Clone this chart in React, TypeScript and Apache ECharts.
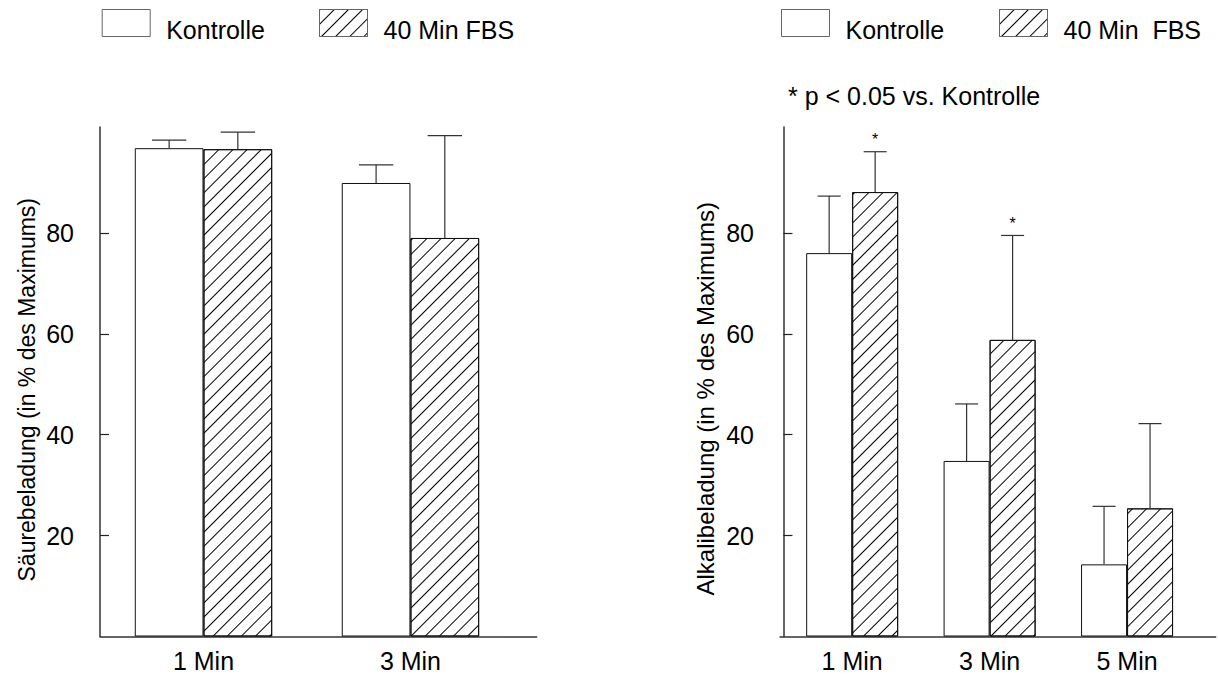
import { useEffect, useRef } from 'react';
import * as echarts from 'echarts';

// Säurebeladung: time after start (min), mean and SD in % of maximum
const leftMinutes = [1, 3];
const leftKontrolle = [96.8, 89.9];
const leftKontrolleSd = [1.6, 3.6];
const leftFbs = [96.6, 79.0];
const leftFbsSd = [3.4, 20.3];

// Alkalibeladung
const rightMinutes = [1, 3, 5];
const rightKontrolle = [76.0, 34.8, 14.3];
const rightKontrolleSd = [11.3, 11.3, 11.5];
const rightFbs = [88.1, 58.8, 25.4];
const rightFbsSd = [8.0, 20.7, 16.8];
const rightFbsSignificant = [true, true, false];

const yTicks = [20, 40, 60, 80];

const FONT = '"Liberation Sans", Arial, Helvetica, sans-serif';
const AXIS_COLOR = '#333';
const LEFT_BAR_W = 68.7;
const RIGHT_BAR_W = 46;

const hatch = {
  symbol: 'rect',
  symbolSize: 1,
  color: '#000',
  backgroundColor: '#fff',
  dashArrayX: [1, 0],
  dashArrayY: [1, 8.7],
  rotation: -Math.PI / 4,
};

function barSeries(name: string, axis: number, minutes: number[], values: number[], barW: number, hatched: boolean) {
  return {
    type: 'bar',
    name,
    xAxisIndex: axis,
    yAxisIndex: axis,
    barWidth: barW,
    barGap: '0%',
    silent: true,
    data: minutes.map((m, i) => [m, values[i]]),
    itemStyle: {
      color: '#fff',
      borderColor: '#111',
      borderWidth: 1,
      ...(hatched ? { decal: hatch } : {}),
    },
  };
}

function errorSeries(
  name: string,
  axis: number,
  minutes: number[],
  values: number[],
  sd: number[],
  offset: number,
  cap: number,
  stars?: boolean[],
) {
  return {
    type: 'custom',
    name,
    xAxisIndex: axis,
    yAxisIndex: axis,
    z: 5,
    silent: true,
    data: minutes.map((m, i) => [m, values[i], sd[i], stars && stars[i] ? 1 : 0]),
    encode: { x: 0, y: 1 },
    renderItem: (_params: any, api: any) => {
      const x = api.value(0);
      const v = api.value(1);
      const base = api.coord([x, v]);
      const top = api.coord([x, v + api.value(2)]);
      const cx = base[0] + offset;
      const stroke = { stroke: '#333', lineWidth: 1.2 };
      const children: any[] = [
        { type: 'line', shape: { x1: cx, y1: base[1], x2: cx, y2: top[1] }, style: stroke },
        { type: 'line', shape: { x1: cx - cap / 2, y1: top[1], x2: cx + cap / 2, y2: top[1] }, style: stroke },
      ];
      if (api.value(3)) {
        children.push({
          type: 'text',
          x: cx,
          y: top[1] - 12,
          style: { text: '*', fill: '#000', font: `16px ${FONT}`, align: 'center', verticalAlign: 'middle' },
        });
      }
      return { type: 'group', children };
    },
  };
}

function yAxis(grid: number, name: string, gap: number, size: number, shift: number) {
  return {
    type: 'value',
    gridIndex: grid,
    min: 0,
    max: 101,
    name,
    nameLocation: 'middle',
    nameGap: gap,
    nameTextStyle: { fontFamily: FONT, fontSize: size, color: '#000', padding: [0, shift, 0, 0] },
    axisLine: { show: true, lineStyle: { color: AXIS_COLOR, width: 1.5 } },
    axisTick: { show: true, inside: true, length: 9, customValues: yTicks, lineStyle: { color: '#222', width: 1.2 } },
    axisLabel: { customValues: yTicks, margin: 26, fontFamily: FONT, fontSize: 25, color: '#000' },
    splitLine: { show: false },
  };
}

function xAxis(grid: number, min: number, max: number, minutes: number[]) {
  return {
    type: 'value',
    gridIndex: grid,
    min,
    max,
    axisLine: { show: true, onZero: false, lineStyle: { color: AXIS_COLOR, width: 1.5 } },
    axisTick: { show: false },
    axisLabel: {
      customValues: minutes,
      formatter: (v: number) => `${v} Min`,
      margin: 12,
      fontFamily: FONT,
      fontSize: 25,
      color: '#000',
    },
    splitLine: { show: false },
  };
}

function legendItem(name: string, left: number) {
  return {
    data: [name],
    left,
    top: 9,
    padding: 0,
    icon: 'rect',
    itemWidth: 48,
    itemHeight: 27,
    selectedMode: false,
    itemStyle: { borderColor: '#666', borderWidth: 1 },
    formatter: (n: string) => `{t|${n}}`,
    textStyle: {
      fontFamily: FONT,
      fontSize: 25,
      color: '#000',
      rich: { t: { fontFamily: FONT, fontSize: 25, color: '#000', padding: [14, 0, 0, 11] } },
    },
  };
}

export default function App() {
  const ref = useRef<HTMLDivElement>(null);

  useEffect(() => {
    if (!ref.current) return;
    const chart = echarts.init(ref.current, undefined, { renderer: 'svg' });
    chart.setOption({
      animation: false,
      backgroundColor: '#fff',
      grid: [
        { left: 100, top: 127, width: 436.7, height: 509.5 },
        { left: 780, top: 127, width: 435.7, height: 509.5 },
      ],
      xAxis: [xAxis(0, 0, 4.22, leftMinutes), xAxis(1, -0.05, 6.29, rightMinutes)],
      yAxis: [
        yAxis(0, 'Säurebeladung (in % des Maximums)', 62, 23, 16),
        yAxis(1, 'Alkalibeladung (in % des Maximums)', 63, 24, 34),
      ],
      legend: [
        legendItem('Kontrolle', 101.7),
        legendItem('40 Min FBS', 319),
        legendItem('Kontrolle', 781),
        legendItem('40 Min  FBS', 999),
      ],
      graphic: [
        {
          type: 'text',
          left: 788,
          top: 83,
          style: { text: '* p < 0.05 vs. Kontrolle', font: `25px ${FONT}`, fill: '#000' },
        },
      ],
      series: [
        barSeries('Kontrolle', 0, leftMinutes, leftKontrolle, LEFT_BAR_W, false),
        barSeries('40 Min FBS', 0, leftMinutes, leftFbs, LEFT_BAR_W, true),
        errorSeries('Kontrolle SD', 0, leftMinutes, leftKontrolle, leftKontrolleSd, -LEFT_BAR_W / 2, LEFT_BAR_W / 2),
        errorSeries('40 Min FBS SD', 0, leftMinutes, leftFbs, leftFbsSd, LEFT_BAR_W / 2, LEFT_BAR_W / 2),
        barSeries('Kontrolle', 1, rightMinutes, rightKontrolle, RIGHT_BAR_W, false),
        barSeries('40 Min  FBS', 1, rightMinutes, rightFbs, RIGHT_BAR_W, true),
        errorSeries('Kontrolle SD (Alkali)', 1, rightMinutes, rightKontrolle, rightKontrolleSd, -RIGHT_BAR_W / 2, RIGHT_BAR_W / 2),
        errorSeries(
          '40 Min FBS SD (Alkali)',
          1,
          rightMinutes,
          rightFbs,
          rightFbsSd,
          RIGHT_BAR_W / 2,
          RIGHT_BAR_W / 2,
          rightFbsSignificant,
        ),
      ],
    });
    return () => chart.dispose();
  }, []);

  return <div ref={ref} style={{ position: 'fixed', left: 0, top: 0, width: 1218, height: 677 }} />;
}
